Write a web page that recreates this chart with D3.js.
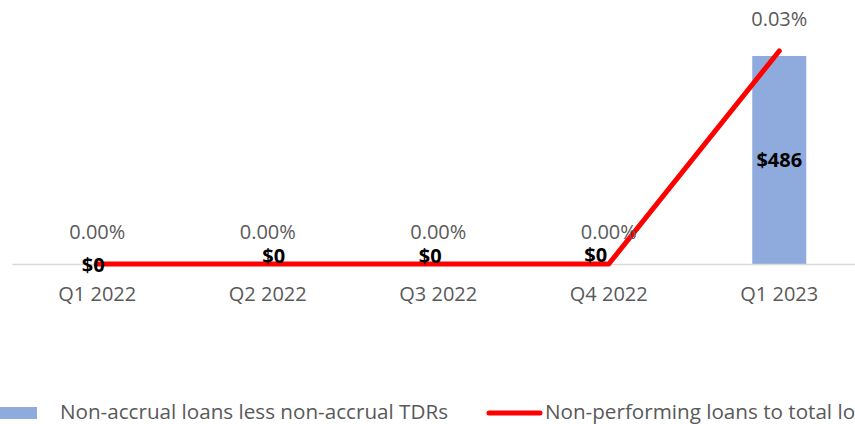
<!DOCTYPE html>
<html>
<head>
<meta charset="utf-8">
<script src="https://cdn.jsdelivr.net/npm/d3@7"></script>
<style>
  html, body { margin: 0; padding: 0; background: #fff; overflow: hidden; }
  svg { display: block; font-family: "Open Sans", sans-serif; }
</style>
</head>
<body>
<svg id="chart" width="855" height="424"></svg>
<script>
// Quarterly credit quality data
const quarters = ["Q1 2022", "Q2 2022", "Q3 2022", "Q4 2022", "Q1 2023"];
const nonAccrualLoans = [0, 0, 0, 0, 486];                 // $ thousands
const nplRatio = [0.0000, 0.0000, 0.0000, 0.0000, 0.0003]; // fraction of total loans
const barLabels = ["$0", "$0", "$0", "$0", "$486"];
const ratioLabels = ["0.00%", "0.00%", "0.00%", "0.00%", "0.03%"];
const legendLabels = ["Non-accrual loans less non-accrual TDRs", "Non-performing loans to total loans"];

const svg = d3.select("#chart");
const baseY = 264;

const x = d3.scaleBand().domain(quarters).range([12, 864.5]).paddingInner(0.68).paddingOuter(0.34);
const yBar = d3.scaleLinear().domain([0, 486]).range([baseY, 56]);
const yLine = d3.scaleLinear().domain([0, 0.0003]).range([baseY, 51]);
const cx = q => x(q) + x.bandwidth() / 2;

// bars
svg.append("g").selectAll("rect").data(quarters).join("rect")
  .attr("x", q => cx(q) - 27)
  .attr("width", 54)
  .attr("y", (q, i) => yBar(nonAccrualLoans[i]))
  .attr("height", (q, i) => baseY - yBar(nonAccrualLoans[i]))
  .attr("fill", "#8faadc");

// category axis
const axis = d3.axisBottom(x).tickSize(0).tickPadding(23);
const gAxis = svg.append("g").attr("transform", `translate(0,${baseY})`).call(axis);
gAxis.select(".domain").attr("stroke", "#d9d9d9").attr("stroke-width", 1.3);
gAxis.selectAll("text").attr("font-size", 20).attr("fill", "#595959")
  .attr("font-family", "'Open Sans', sans-serif");

// ratio line
const line = d3.line().x(q => cx(q)).y((q, i) => yLine(nplRatio[i]));
svg.append("path").datum(quarters).attr("d", line)
  .attr("fill", "none").attr("stroke", "#ff0000").attr("stroke-width", 5)
  .attr("stroke-linecap", "round").attr("stroke-linejoin", "round");

// ratio labels above the line points
svg.append("g").selectAll("text").data(quarters).join("text")
  .attr("x", cx)
  .attr("y", (q, i) => yLine(nplRatio[i]) - 25)
  .attr("text-anchor", "middle")
  .attr("font-size", 20).attr("fill", "#595959")
  .text((q, i) => ratioLabels[i]);

// bar value labels
const barLabelShift = [[-4, 8], [6, -1], [-8, -1], [-13, -2], [0, 0]];
svg.append("g").selectAll("text").data(quarters).join("text")
  .attr("x", (q, i) => cx(q) + barLabelShift[i][0])
  .attr("y", (q, i) => {
    const top = yBar(nonAccrualLoans[i]);
    return (nonAccrualLoans[i] > 0 ? (top + baseY) / 2 + 7 : baseY) + barLabelShift[i][1];
  })
  .attr("text-anchor", "middle")
  .attr("font-size", 20).attr("font-weight", "bold").attr("fill", "#000")
  .text((q, i) => barLabels[i]);

// legend (second entry runs past the right edge)
const lg = svg.append("g").attr("font-size", 19.5);
lg.append("rect").attr("x", 0).attr("y", 407).attr("width", 37).attr("height", 12).attr("fill", "#8faadc");
const t1 = lg.append("text").attr("x", 60).attr("y", 419).attr("fill", "#595959").text(legendLabels[0]);
lg.append("line").attr("x1", 489).attr("x2", 540).attr("y1", 413).attr("y2", 413)
  .attr("stroke", "#ff0000").attr("stroke-width", 5).attr("stroke-linecap", "round");
const t2 = lg.append("text").attr("x", 545).attr("y", 419).attr("fill", "#595959").text(legendLabels[1]);
const squeeze = 388 / t1.node().getComputedTextLength();
t1.attr("textLength", 388).attr("lengthAdjust", "spacingAndGlyphs");
t2.attr("textLength", t2.node().getComputedTextLength() * squeeze).attr("lengthAdjust", "spacingAndGlyphs");
</script>
</body>
</html>
